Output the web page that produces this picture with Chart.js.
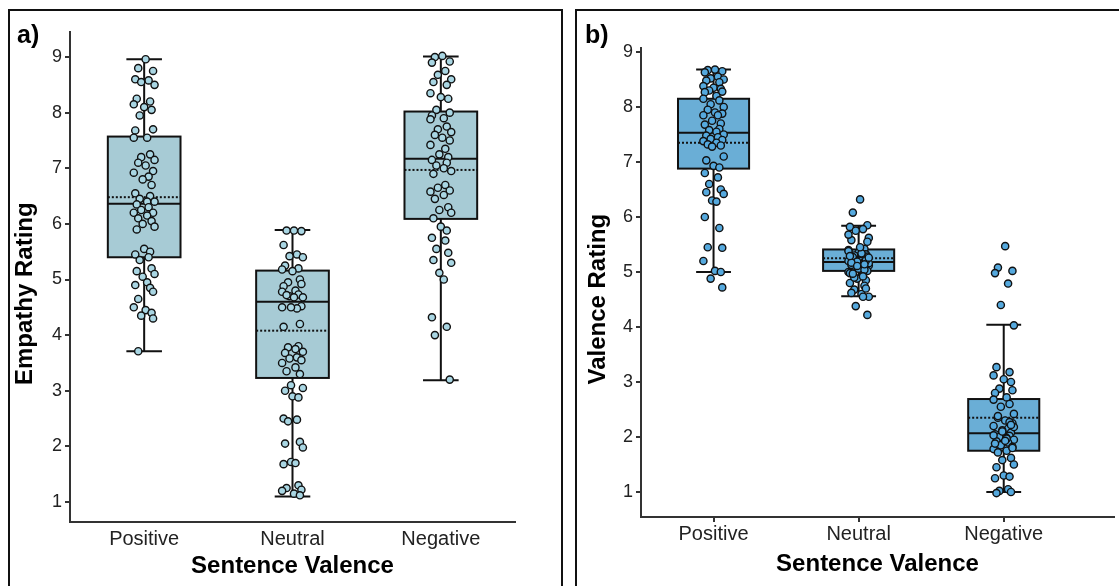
<!DOCTYPE html>
<html>
<head>
<meta charset="utf-8">
<script src="https://cdn.jsdelivr.net/npm/chart.js@4.4.1/dist/chart.umd.min.js"></script>
<style>
  body { margin:0; background:#fff; width:1119px; height:586px; overflow:hidden; position:relative; font-family: Arial, "Liberation Sans", sans-serif; }
  .panel { position:absolute; top:9px; height:600px; border:2px solid #111; box-sizing:border-box; }
  #panelA { left:8px; width:555px; }
  #panelB { left:575px; width:600px; }
  .tag { position:absolute; font-weight:bold; font-size:25px; line-height:25px; color:#000; }
  canvas { position:absolute; top:0; }
</style>
</head>
<body>
<div class="panel" id="panelA"></div>
<div class="panel" id="panelB"></div>
<canvas id="chartA" width="565" height="586" style="left:0"></canvas>
<canvas id="chartB" width="554" height="586" style="left:565px"></canvas>
<div class="tag" style="left:17px; top:22px">a)</div>
<div class="tag" style="left:585px; top:22px">b)</div>
<script>
/*************** data *****************/
const groups = ['Positive', 'Neutral', 'Negative'];
const yTicks = [1, 2, 3, 4, 5, 6, 7, 8, 9];

// a) empathy rating - box stats per group
const empLow  = [3.71, 1.10, 3.19];
const empQ1   = [5.40, 3.23, 6.09];
const empMed  = [6.36, 4.60, 7.17];
const empMean = [6.48, 4.08, 6.97];
const empQ3   = [7.57, 5.16, 8.02];
const empHigh = [8.96, 5.89, 9.01];

// b) valence rating - box stats per group
const valLow  = [5.00, 4.56, 1.00];
const valQ1   = [6.88, 5.02, 1.75];
const valMed  = [7.53, 5.18, 2.07];
const valMean = [7.35, 5.25, 2.35];
const valQ3   = [8.15, 5.41, 2.69];
const valHigh = [8.68, 5.84, 4.04];

// single sentence ratings (dots)
const empPos = [8.96, 8.80, 8.75, 8.60, 8.58, 8.55, 8.50, 8.25, 8.20, 8.15, 8.10, 8.05, 7.95, 7.70, 7.68, 7.55, 7.55,
  7.25, 7.20, 7.15, 7.10, 7.05, 6.95, 6.92, 6.85, 6.80, 6.70, 6.55, 6.50, 6.45, 6.40, 6.40, 6.35, 6.30, 6.25, 6.20,
  6.20, 6.15, 6.10, 6.05, 6.00, 5.95, 5.90, 5.55, 5.50, 5.45, 5.40, 5.35, 5.20, 5.15, 5.10, 5.05, 4.95, 4.90, 4.85,
  4.65, 4.78, 4.50, 4.45, 4.40, 4.35, 4.30, 3.71];
const empNeu = [5.88, 5.88, 5.87, 5.62, 5.45, 5.42, 5.40, 5.25, 5.20, 5.18, 5.15, 5.00, 4.95, 4.92, 4.88, 4.80, 4.78,
  4.73, 4.70, 4.68, 4.72, 4.68, 4.52, 4.50, 4.48, 4.50, 4.20, 4.15, 3.80, 3.78, 3.75, 3.70, 3.68, 3.60, 3.58, 3.55,
  3.50, 3.42, 3.35, 3.30, 3.10, 3.05, 3.00, 2.90, 2.88, 2.50, 2.48, 2.45, 2.08, 2.05, 1.98, 1.72, 1.70, 1.68, 1.30,
  1.25, 1.22, 1.20, 1.15, 1.12];
const empNeg = [9.02, 9.00, 8.92, 8.90, 8.75, 8.68, 8.60, 8.55, 8.50, 8.35, 8.28, 8.25, 8.05, 8.00, 7.95, 7.90, 7.88,
  7.75, 7.70, 7.65, 7.60, 7.55, 7.50, 7.42, 7.35, 7.25, 7.20, 7.15, 7.10, 7.05, 7.00, 6.95, 6.90, 6.70, 6.65, 6.60,
  6.58, 6.52, 6.45, 6.30, 6.25, 6.20, 6.10, 5.95, 5.88, 5.75, 5.70, 5.55, 5.48, 5.35, 5.30, 5.12, 5.00, 4.32, 4.15,
  4.00, 3.20];
const valPos = [8.68, 8.67, 8.65, 8.63, 8.55, 8.52, 8.50, 8.48, 8.45, 8.38, 8.35, 8.33, 8.30, 8.28, 8.27, 8.20, 8.15,
  8.12, 8.05, 8.00, 7.95, 7.90, 7.88, 7.85, 7.85, 7.75, 7.70, 7.68, 7.60, 7.58, 7.55, 7.50, 7.48, 7.45, 7.42, 7.40,
  7.38, 7.35, 7.32, 7.30, 7.28, 7.10, 7.03, 6.93, 6.90, 6.80, 6.72, 6.60, 6.50, 6.45, 6.42, 6.30, 6.28, 6.00, 5.80,
  5.45, 5.44, 5.20, 5.02, 5.00, 4.88, 4.72];
const valNeu = [6.32, 6.08, 5.85, 5.82, 5.78, 5.75, 5.62, 5.58, 5.42, 5.40, 5.35, 5.32, 5.30, 5.28, 5.25, 5.22, 5.20,
  5.18, 5.15, 5.12, 5.10, 5.08, 5.02, 5.00, 4.95, 4.88, 4.85, 4.80, 4.75, 4.68, 4.60, 4.55, 4.62, 4.55, 4.38, 4.22,
  5.38, 5.33, 5.27, 5.23, 5.19, 5.16, 5.13, 5.06, 5.04, 4.98, 4.92, 4.90, 5.21, 5.17, 5.26, 5.11, 5.34, 5.29, 5.14,
  4.97, 5.55, 5.68, 5.45, 4.70];
const valNeg = [5.47, 5.08, 5.02, 4.98, 4.79, 4.40, 4.03, 3.27, 3.18, 3.12, 3.05, 3.00, 2.88, 2.85, 2.80, 2.72, 2.68,
  2.60, 2.55, 2.42, 2.35, 2.30, 2.25, 2.20, 2.15, 2.12, 2.08, 2.05, 2.02, 2.00, 1.98, 1.95, 1.92, 1.90, 1.85, 1.82,
  1.78, 1.75, 1.72, 1.62, 1.58, 1.50, 1.45, 1.30, 1.28, 1.25, 1.05, 1.02, 1.00, 0.98, 2.18, 2.10, 1.97, 1.88, 2.27,
  2.38, 1.80, 2.03, 1.93, 2.22];

// horizontal spread of the dots, in category units
const jitter = [0.01, -0.04, 0.06, -0.06, 0.03, -0.02, 0.07, -0.05, 0.04, -0.07, 0.00, 0.05, -0.03, 0.06, -0.06, 0.02,
  -0.07, 0.04, -0.02, 0.07, -0.04, 0.01, 0.06, -0.07, 0.03, -0.01, 0.05, -0.06, 0.04, -0.03, 0.02, 0.07, -0.05, 0.03,
  -0.02, 0.06, -0.07, 0.02, -0.04, 0.05, -0.01, 0.07, -0.05, 0.00, 0.04, -0.06, 0.03, -0.03, 0.05, -0.05, 0.07, -0.01,
  0.02, -0.06, 0.04, -0.04, 0.06, -0.07, 0.01, 0.05, -0.02, 0.06, -0.04, 0.00];

const FONT = 'Arial, "Liberation Sans", sans-serif';

/*************** box + whisker drawing *****************/
const boxPlugin = {
  id: 'boxes',
  beforeDatasetsDraw(chart, args, opts) {
    const ctx = chart.ctx;
    const x = chart.scales.x, y = chart.scales.y;
    const s = opts.stats;
    groups.forEach((name, g) => {
      const cx = x.getPixelForValue(g);
      const bl = x.getPixelForValue(g - 0.245), br = x.getPixelForValue(g + 0.245);
      const cl = x.getPixelForValue(g - 0.12), cr = x.getPixelForValue(g + 0.12);
      const lo = y.getPixelForValue(s.low[g]), hi = y.getPixelForValue(s.high[g]);
      const q1 = y.getPixelForValue(s.q1[g]), q3 = y.getPixelForValue(s.q3[g]);
      const md = y.getPixelForValue(s.med[g]), mn = y.getPixelForValue(s.mean[g]);
      ctx.save();
      ctx.strokeStyle = '#111';
      ctx.lineWidth = 2;
      ctx.beginPath();
      ctx.moveTo(cx, lo); ctx.lineTo(cx, hi);
      ctx.moveTo(cl, lo); ctx.lineTo(cr, lo);
      ctx.moveTo(cl, hi); ctx.lineTo(cr, hi);
      ctx.stroke();
      ctx.fillStyle = opts.fill;
      ctx.fillRect(bl, q3, br - bl, q1 - q3);
      ctx.strokeRect(bl, q3, br - bl, q1 - q3);
      ctx.beginPath();
      ctx.moveTo(bl, md); ctx.lineTo(br, md);
      ctx.stroke();
      ctx.setLineDash([2, 2]);
      ctx.beginPath();
      ctx.moveTo(bl, mn); ctx.lineTo(br, mn);
      ctx.stroke();
      ctx.restore();
    });
  }
};

function pointsFor(values, g) {
  return values.map((v, k) => ({ x: g + jitter[k], y: v }));
}

function makeChart(id, set) {
  return new Chart(document.getElementById(id), {
    type: 'scatter',
    data: {
      datasets: set.points.map((vals, g) => ({
        data: pointsFor(vals, g),
        pointRadius: 3.6,
        pointHoverRadius: 3.6,
        backgroundColor: set.dot,
        borderColor: '#111',
        pointBorderWidth: 1.4
      }))
    },
    options: {
      responsive: false,
      animation: false,
      events: [],
      layout: { padding: { left: 0, right: set.padRight, top: set.padTop, bottom: 0 } },
      plugins: {
        legend: { display: false },
        tooltip: { enabled: false },
        boxes: { stats: set.stats, fill: set.box }
      },
      scales: {
        x: {
          type: 'linear', min: -0.5, max: set.xMax,
          afterBuildTicks: s => { s.ticks = groups.map((n, i) => ({ value: i })); },
          afterFit: s => { s.height = set.xHeight; },
          ticks: { callback: v => groups[v], font: { size: 20, family: FONT }, color: '#222',
                   padding: set.xLabelPad, maxRotation: 0, autoSkip: false },
          grid: { drawOnChartArea: false, drawTicks: set.xTickMarks, tickLength: 5, color: '#333', lineWidth: 2 },
          border: { color: '#333', width: 2 },
          title: { display: true, text: 'Sentence Valence', color: '#000',
                   font: { size: 24, weight: 'bold', family: FONT }, padding: { top: 0, bottom: set.xTitlePad } }
        },
        y: {
          type: 'linear', min: set.yMin, max: set.yMax,
          afterBuildTicks: s => { s.ticks = yTicks.map(v => ({ value: v })); },
          afterFit: s => { s.width = set.yWidth; },
          ticks: { font: { size: 18, family: FONT }, color: '#222', padding: 3 },
          grid: { drawOnChartArea: false, tickLength: 5, color: '#333', lineWidth: 2 },
          border: { color: '#333', width: 2 },
          title: { display: true, text: set.yTitle, color: '#000',
                   font: { size: 24, weight: 'bold', family: FONT }, padding: { top: set.yTitlePad, bottom: 0 } }
        }
      }
    },
    plugins: [boxPlugin]
  });
}

/*************** charts *****************/
makeChart('chartA', {
  points: [empPos, empNeu, empNeg],
  stats: { low: empLow, q1: empQ1, med: empMed, mean: empMean, q3: empQ3, high: empHigh },
  box: '#a7cbd5', dot: '#a9d6e3',
  yTitle: 'Empathy Rating     ',
  yMin: 0.64, yMax: 9.45, xMax: 2.5,
  padTop: 32, padRight: 50, yWidth: 70, xHeight: 64,
  xTickMarks: false, xLabelPad: 5, xTitlePad: 5, yTitlePad: 11
});

makeChart('chartB', {
  points: [valPos, valNeu, valNeg],
  stats: { low: valLow, q1: valQ1, med: valMed, mean: valMean, q3: valQ3, high: valHigh },
  box: '#6aaed6', dot: '#55a9de',
  yTitle: 'Valence Rating     ',
  yMin: 0.545, yMax: 9.073, xMax: 2.76,
  padTop: 48, padRight: 0, yWidth: 76, xHeight: 69,
  xTickMarks: true, xLabelPad: 0, xTitlePad: 7, yTitlePad: 19
});
</script>
</body>
</html>
